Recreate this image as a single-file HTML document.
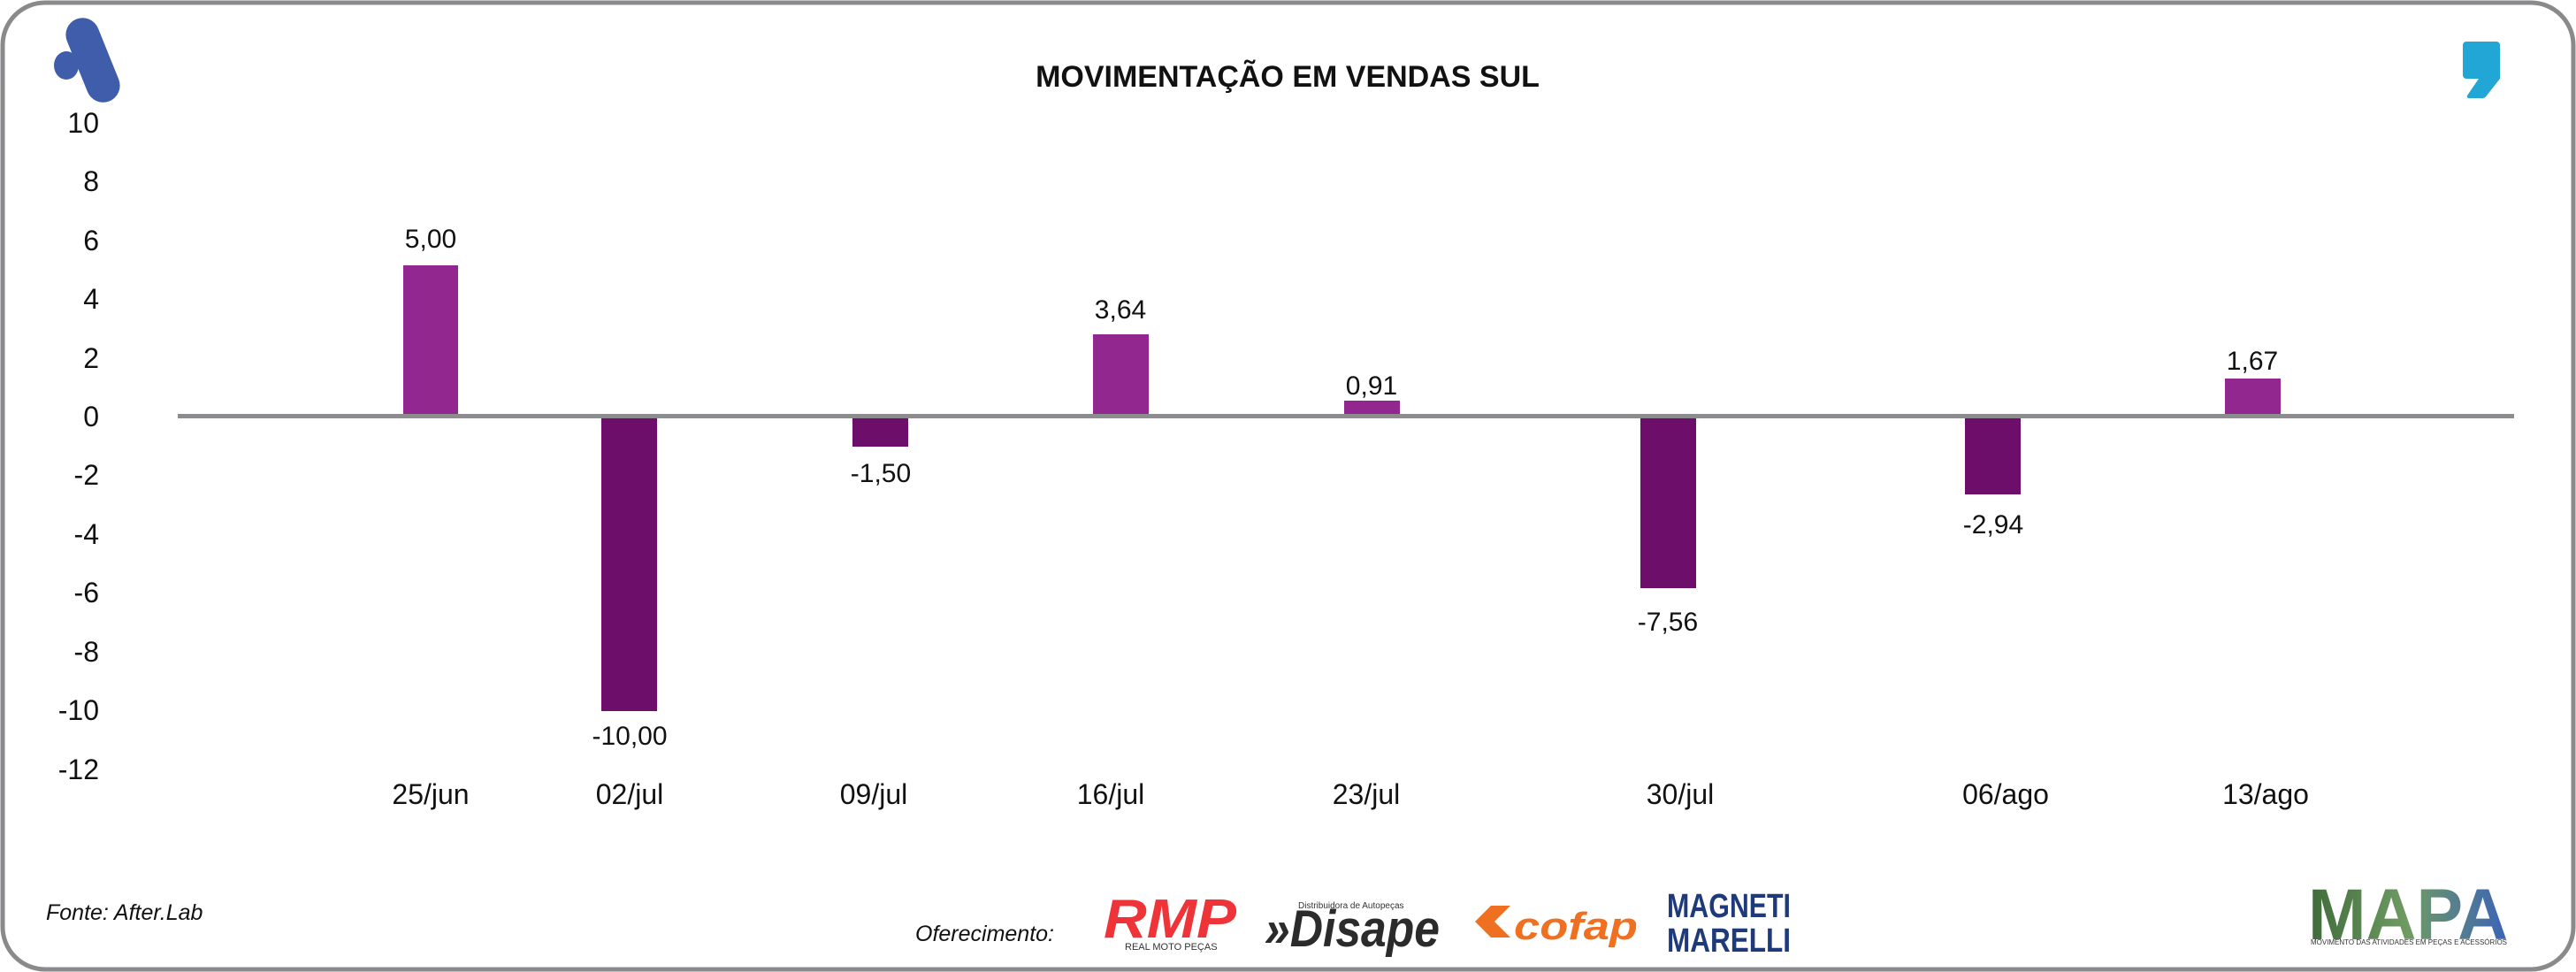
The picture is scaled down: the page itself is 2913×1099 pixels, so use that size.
<!DOCTYPE html>
<html><head><meta charset="utf-8"><style>
html,body{margin:0;padding:0;background:#fff}
svg{display:block}
text{font-family:"Liberation Sans",sans-serif}
</style></head><body>
<svg width="2913" height="1099" viewBox="0 0 2913 1099" xmlns="http://www.w3.org/2000/svg">
<rect x="3" y="3" width="2907" height="1093" rx="48" fill="#fff" stroke="#8a8a8c" stroke-width="5"/>
<!-- top-left logo -->
<rect x="86" y="18" width="38" height="100" rx="19" transform="rotate(-22 105 68)" fill="#3f5dab"/>
<ellipse cx="75" cy="74" rx="14" ry="16" fill="#3f5dab"/>
<!-- top-right comma -->
<path d="M2789 47 H2823 a4 4 0 0 1 4 4 V89 L2812 108 a6 6 0 0 1 -5 3 H2792 a2 2 0 0 1 -2 -3 L2803 89 H2789 a4 4 0 0 1 -4 -4 V51 a4 4 0 0 1 4 -4 Z" fill="#22a6d6"/>
<text x="1456" y="98" text-anchor="middle" font-size="34" font-weight="bold" fill="#111">MOVIMENTAÇÃO EM VENDAS SUL</text>
<g font-size="32" fill="#111" text-anchor="end">
<text x="112" y="150">10</text>
<text x="112" y="216">8</text>
<text x="112" y="283">6</text>
<text x="112" y="349">4</text>
<text x="112" y="416">2</text>
<text x="112" y="482">0</text>
<text x="112" y="548">-2</text>
<text x="112" y="615">-4</text>
<text x="112" y="681">-6</text>
<text x="112" y="748">-8</text>
<text x="112" y="814">-10</text>
<text x="112" y="881">-12</text>
</g>
<g>
<rect x="456" y="300" width="62" height="170" fill="#92278f"/>
<rect x="680" y="470" width="63" height="334" fill="#6d0f6a"/>
<rect x="964" y="470" width="63" height="35" fill="#6d0f6a"/>
<rect x="1236" y="378" width="63" height="92" fill="#92278f"/>
<rect x="1520" y="453" width="63" height="17" fill="#92278f"/>
<rect x="1855" y="470" width="63" height="195" fill="#6d0f6a"/>
<rect x="2222" y="470" width="63" height="89" fill="#6d0f6a"/>
<rect x="2516" y="428" width="63" height="42" fill="#92278f"/>
</g>
<rect x="201" y="468" width="2642" height="5" fill="#8c8c8e"/>
<g font-size="30" fill="#111" text-anchor="middle">
<text x="487" y="280">5,00</text>
<text x="712" y="842">-10,00</text>
<text x="996" y="545">-1,50</text>
<text x="1267" y="360">3,64</text>
<text x="1551" y="446">0,91</text>
<text x="1886" y="713">-7,56</text>
<text x="2254" y="603">-2,94</text>
<text x="2547" y="418">1,67</text>
</g>
<g font-size="32" fill="#111" text-anchor="middle">
<text x="487" y="909">25/jun</text>
<text x="712" y="909">02/jul</text>
<text x="988" y="909">09/jul</text>
<text x="1256" y="909">16/jul</text>
<text x="1545" y="909">23/jul</text>
<text x="1900" y="909">30/jul</text>
<text x="2268" y="909">06/ago</text>
<text x="2562" y="909">13/ago</text>
</g>
<text x="52" y="1040" font-size="25" font-style="italic" fill="#111">Fonte: After.Lab</text>
<text x="1035" y="1064" font-size="25" font-style="italic" fill="#111">Oferecimento:</text>
<!-- RMP -->
<text x="1248" y="1060" font-size="62" font-weight="bold" font-style="italic" fill="#ee3438" textLength="150" lengthAdjust="spacingAndGlyphs">RMP</text>
<text x="1272" y="1074" font-size="11" fill="#333">REAL MOTO PEÇAS</text>
<!-- Disape -->
<text x="1430" y="1070" font-size="58" font-weight="bold" font-style="italic" fill="#2b2b2b" textLength="198" lengthAdjust="spacingAndGlyphs">»Disape</text>
<text x="1468" y="1027" font-size="10" fill="#333">Distribuidora de Autopeças</text>
<!-- cofap -->
<path d="M1668 1042 l18 -18 h22 l-18 18 l18 18 h-22 z" fill="#f07022"/>
<text x="1712" y="1062" font-size="44" font-weight="bold" font-style="italic" fill="#f07022" textLength="140" lengthAdjust="spacingAndGlyphs">cofap</text>
<!-- Magneti Marelli -->
<text x="1955" y="1037" text-anchor="middle" font-size="38" font-weight="bold" fill="#1f3a7a" textLength="140" lengthAdjust="spacingAndGlyphs">MAGNETI</text>
<text x="1955" y="1076" text-anchor="middle" font-size="38" font-weight="bold" fill="#1f3a7a" textLength="140" lengthAdjust="spacingAndGlyphs">MARELLI</text>
<!-- MAPA -->
<defs><linearGradient id="mg" x1="0" x2="1" y1="0" y2="0"><stop offset="0" stop-color="#3f6b3a"/><stop offset="0.5" stop-color="#6f9b63"/><stop offset="1" stop-color="#3b63b8"/></linearGradient></defs>
<text x="2610" y="1062" font-size="82" font-weight="bold" fill="url(#mg)" textLength="226" lengthAdjust="spacingAndGlyphs">MAPA</text>
<text x="2613" y="1068" font-size="8" fill="#333" textLength="222" lengthAdjust="spacingAndGlyphs">MOVIMENTO DAS ATIVIDADES EM PEÇAS E ACESSÓRIOS</text>
</svg>
</body></html>
